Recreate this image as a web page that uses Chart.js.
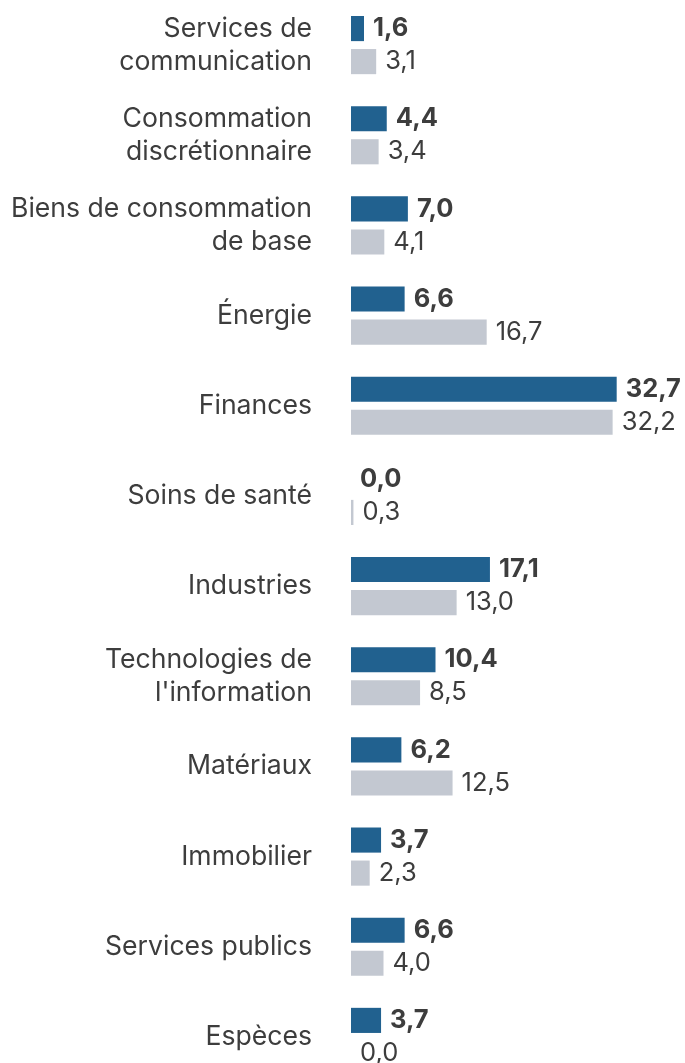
<!DOCTYPE html>
<html>
<head>
<meta charset="utf-8">
<script src="https://cdn.jsdelivr.net/npm/chart.js@4/dist/chart.umd.min.js"></script>
<style>
  html, body { margin: 0; padding: 0; background: #fff; overflow: hidden; }
  #wrap { width: 685px; height: 1082px; position: relative; }
</style>
</head>
<body>
<div id="wrap"><canvas id="sectorChart"></canvas></div>
<script>
var categories = [
  ["Services de", "communication"],
  ["Consommation", "discrétionnaire"],
  ["Biens de consommation", "de base"],
  "Énergie",
  "Finances",
  "Soins de santé",
  "Industries",
  ["Technologies de", "l'information"],
  "Matériaux",
  "Immobilier",
  "Services publics",
  "Espèces"
];
var fundValues = [1.6, 4.4, 7.0, 6.6, 32.7, 0.0, 17.1, 10.4, 6.2, 3.7, 6.6, 3.7];
var benchValues = [3.1, 3.4, 4.1, 16.7, 32.2, 0.3, 13.0, 8.5, 12.5, 2.3, 4.0, 0.0];

var textColor = "#3d3d3d";

// draws the value next to the end of each bar
var valueLabels = {
  id: "valueLabels",
  afterDatasetsDraw: function (chart) {
    var ctx = chart.ctx;
    ctx.save();
    ctx.textBaseline = "middle";
    ctx.textAlign = "left";
    ctx.fillStyle = textColor;
    chart.data.datasets.forEach(function (ds, i) {
      var meta = chart.getDatasetMeta(i);
      ctx.font = (i === 0 ? "bold " : "") + "25.5px Inter";
      meta.data.forEach(function (bar, j) {
        var txt = ds.data[j].toFixed(1).replace(".", ",");
        ctx.fillText(txt, bar.x + 9, bar.y);
      });
    });
    ctx.restore();
  }
};

new Chart("sectorChart", {
  type: "bar",
  data: {
    labels: categories,
    datasets: [{
      data: fundValues,
      backgroundColor: "#21618f",
      borderWidth: 0
    },
    {
      data: benchValues,
      backgroundColor: "#c3c8d1",
      borderWidth: 0
    }]
  },
  plugins: [valueLabels],
  options: {
    indexAxis: "y",
    responsive: true,
    maintainAspectRatio: false,
    animation: false,
    categoryPercentage: 0.733,
    barPercentage: 0.76,
    layout: {
      padding: { top: 0, bottom: 0, left: 0, right: 9 }
    },
    plugins: {
      legend: { display: false },
      tooltip: { enabled: false }
    },
    scales: {
      x: {
        display: false,
        min: 0,
        max: 40
      },
      y: {
        grid: { display: false, drawTicks: false },
        border: { display: false },
        ticks: {
          color: textColor,
          padding: 39,
          font: { family: "Inter", size: 26.6, lineHeight: 1.24 }
        },
        afterFit: function (scale) {
          scale.width = 351;
          scale.paddingTop = 0;
          scale.paddingBottom = 0;
        }
      }
    }
  }
});
</script>
</body>
</html>
